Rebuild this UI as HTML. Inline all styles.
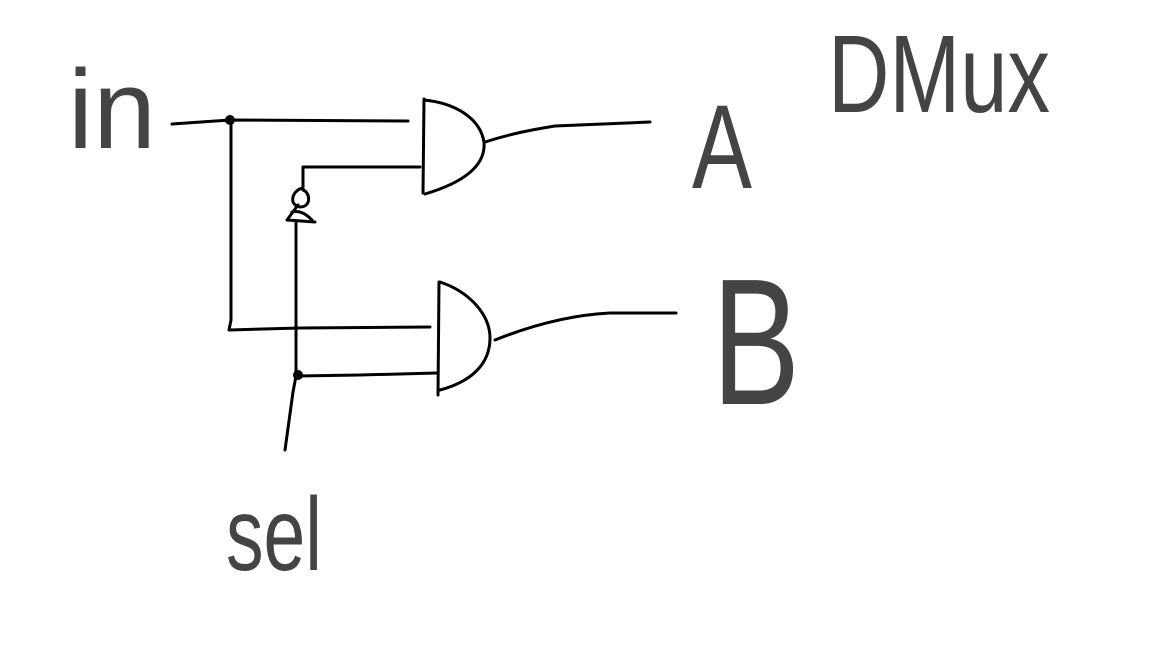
<!DOCTYPE html>
<html><head><meta charset="utf-8"><style>
html,body{margin:0;padding:0;background:#fff;}
svg{display:block}
text{font-family:"Liberation Sans",sans-serif;fill:#444;}
</style></head><body>
<svg width="1152" height="648" viewBox="0 0 1152 648">
<rect width="1152" height="648" fill="#fff"/>
<g fill="none" stroke="#000" stroke-width="3" stroke-linecap="round" stroke-linejoin="round">
  <path d="M172,124 L230,120 L408,121"/>
  <path d="M231,121 L231,320 L229,330 L300,328 L430,327"/>
  <path d="M424,99 L423,193 M424,100 C455,103 480,118 484,142 C486,165 465,182 425,194"/>
  <path d="M420,167 L303,167 L303,188"/>
  <path d="M303,188 C292,190 288,205 300,207 C312,207 310,192 303,190 M298,205 L287,220 L315,222 M292,212 C300,210 306,214 312,220"/>
  <path d="M296,222 L296,376 L293,392 L285,450"/>
  <path d="M298,376 L360,375 L437,373"/>
  <path d="M439,282 L438,395 M440,282 C470,292 490,315 490,338 C490,365 470,382 440,390"/>
  <path d="M485,142 C510,134 530,130 555,126 L650,122"/>
  <path d="M495,340 C530,326 570,315 610,313 L676,313"/>
</g>
<circle cx="230" cy="120" r="5" fill="#000"/>
<circle cx="298" cy="375" r="5" fill="#000"/>
<text x="68" y="148" font-size="112" textLength="88" lengthAdjust="spacingAndGlyphs">in</text>
<text x="692" y="188" font-size="120" textLength="60" lengthAdjust="spacingAndGlyphs">A</text>
<text x="712" y="404" font-size="180" textLength="88" lengthAdjust="spacingAndGlyphs">B</text>
<text x="226" y="570" font-size="104" textLength="96" lengthAdjust="spacingAndGlyphs">sel</text>
<text x="828" y="112" font-size="110" textLength="222" lengthAdjust="spacingAndGlyphs">DMux</text>
</svg>
</body></html>
